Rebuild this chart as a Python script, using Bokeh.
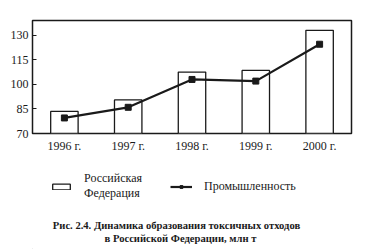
from bokeh.plotting import figure
from bokeh.models import Legend, LegendItem, Label, FixedTicker, Range1d
from bokeh.layouts import column
from bokeh.embed import file_html
from bokeh.resources import INLINE

years = ["1996 г.", "1997 г.", "1998 г.", "1999 г.", "2000 г."]
russia = [83.5, 90.5, 107.5, 108.5, 133.0]
industry = [79.5, 86.0, 103.0, 102.0, 124.5]
y_ticks = [70, 85, 100, 115, 130]
legend_russia = "Российская\nФедерация"
legend_industry = "Промышленность"
caption1 = "Рис. 2.4. Динамика образования токсичных отходов"
caption2 = "в Российской Федерации, млн т"

SERIF = "Liberation Serif"
INK = "#1a1a1a"

# ---- chart ----
p = figure(width=369, height=157, x_range=years, y_range=(70, 139),
           output_backend="svg", toolbar_location=None,
           min_border_left=32, min_border_right=18, min_border_top=20,
           min_border_bottom=24, background_fill_color="white",
           border_fill_color="white")
p.outline_line_color = INK
p.outline_line_width = 1.5
p.xgrid.visible = False
p.ygrid.visible = False

bar_style = dict(fill_color="white", line_color=INK, line_width=1.3)
line_style = dict(line_color=INK, line_width=2.2)
pt_style = dict(marker="square", size=6, fill_color=INK, line_color=INK)

p.vbar(x=years, top=russia, bottom=70, width=0.43, **bar_style)
p.line(x=years, y=industry, **line_style)
p.scatter(x=years, y=industry, **pt_style)

p.yaxis.ticker = FixedTicker(ticks=y_ticks)
for ax in (p.xaxis[0], p.yaxis[0]):
    ax.axis_line_color = None
    ax.major_tick_line_color = INK
    ax.major_tick_in = 4
    ax.major_tick_out = 0
    ax.minor_tick_line_color = None
    ax.major_label_text_font = SERIF
    ax.major_label_text_font_size = "12px"
    ax.major_label_text_color = INK
p.xaxis.major_tick_line_color = None
p.xaxis.major_label_standoff = 5
p.yaxis.major_label_standoff = 4

# ---- legend + caption panel ----
q = figure(width=369, height=92, x_range=Range1d(32, 351), y_range=Range1d(0, 92),
           output_backend="svg", toolbar_location=None,
           x_axis_location=None, y_axis_location=None,
           min_border_left=32, min_border_right=18, min_border_top=0,
           min_border_bottom=0, background_fill_color="white",
           border_fill_color="white")
q.outline_line_color = None
q.xgrid.visible = False
q.ygrid.visible = False

# legend proxies, kept outside the visible range
lb = q.vbar(x=[-1000], top=[-1000], bottom=[-1001], width=1, **bar_style)
ll = q.line(x=[-1000, -999], y=[-1000, -1000], **line_style)
lp = q.scatter(x=[-1000], y=[-1000], **pt_style)

legend = Legend(items=[LegendItem(label=legend_russia, renderers=[lb]),
                       LegendItem(label=legend_industry, renderers=[ll, lp])],
                orientation="horizontal", location=(18, 48),
                label_text_font=SERIF, label_text_font_size="12px",
                label_text_color=INK, label_text_line_height=1.15,
                glyph_width=22, glyph_height=7,
                label_standoff=12, spacing=28, padding=0, margin=0,
                border_line_color=None, background_fill_alpha=0)
q.add_layout(legend)

for txt, xx, yy in ((caption1, 144, 24), (caption2, 148, 11)):
    q.add_layout(Label(x=xx, y=yy, x_units="screen", text=txt,
                       text_font=SERIF, text_font_size="10.6px",
                       text_font_style="bold", text_color=INK,
                       text_align="center", text_baseline="middle"))

layout = column(p, q, spacing=0)
open("out.html", "w").write(file_html(layout, INLINE))
